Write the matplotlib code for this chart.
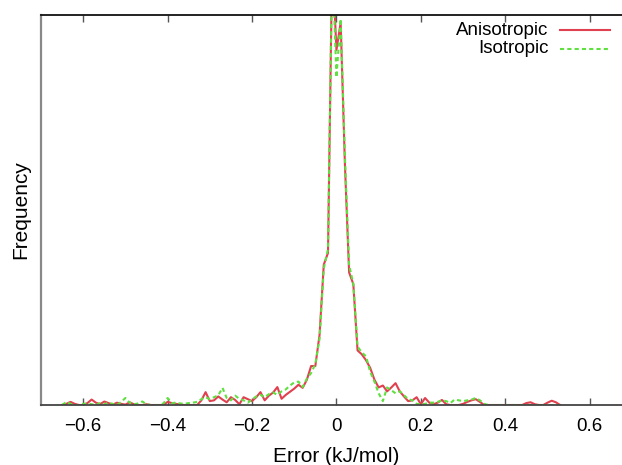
import numpy as np
import matplotlib
matplotlib.use("Agg")
import matplotlib.pyplot as plt

plt.rcParams['font.family'] = ['Liberation Sans', 'DejaVu Sans']

# Histogram bins (kJ/mol), 0.01 wide
error_bins = np.round(np.arange(-0.65, 0.5301, 0.01), 2)

# Frequency, arbitrary units (axis top = 100)
anisotropic = [
    0, 0.3, 0.8, 0.3, 0, 0, 0.5, 1.4, 0.6, 0.2,          # -0.65 .. -0.56
    0.9, 0.5, 0.1, 0.6, 0.3, 0.1, 0.7, 0.2, 0, 0,        # -0.55 .. -0.46
    0.2, 0, 0, 0, 0, 0.8, 0.5, 0.3, 0.1, 0,              # -0.45 .. -0.36
    0, 0, 0, 1.2, 3.3, 1.0, 1.2, 2.2, 1.4, 0.7,          # -0.35 .. -0.26
    2.0, 1.3, 0.2, 2.0, 1.5, 1.0, 2.0, 3.3, 1.2, 2.4,    # -0.25 .. -0.16
    3.2, 4.6, 1.6, 2.6, 3.4, 4.2, 5.2, 4.4, 6.5, 10.0,   # -0.15 .. -0.06
    10.0, 18, 36, 39, 115, 91, 98, 62, 34, 31,           # -0.05 .. 0.04
    14, 13, 11.5, 9.5, 6.5, 4.5, 5.0, 3.5, 4.5, 5.6,     # 0.05 .. 0.14
    3.5, 2.2, 1.0, 1.2, 2.0, 0.2, 1.8, 0.6, 0.2, 0.6,    # 0.15 .. 0.24
    1.3, 0.2, 0, 0, 0, 0.3, 0.8, 1.2, 1.5, 0.8,          # 0.25 .. 0.34
    0, 0, 0, 0, 0, 0, 0, 0, 0, 0,                        # 0.35 .. 0.44
    0.5, 0.7, 0.2, 0, 0, 0.6, 1.1, 0.7, 0,               # 0.45 .. 0.53
]
isotropic = [
    0, 0.8, 0.3, 0, 0, 0.3, 0.4, 0.2, 0, 0.5,            # -0.65 .. -0.56
    0.2, 0.6, 0.3, 0, 0.8, 1.8, 0.6, 0.2, 0.4, 0.9,      # -0.55 .. -0.46
    0.2, 0, 0, 0, 0.4, 1.8, 0.5, 0.6, 0.4, 0.3,          # -0.45 .. -0.36
    0.5, 0.6, 0.8, 1.5, 2.0, 1.5, 2.0, 2.5, 4.4, 1.8,    # -0.35 .. -0.26
    1.2, 2.4, 1.6, 1.2, 0.6, 1.4, 2.2, 2.6, 2.0, 2.8,    # -0.25 .. -0.16
    3.2, 2.6, 3.5, 4.0, 5.0, 5.8, 6.0, 4.6, 6.8, 8.2,    # -0.15 .. -0.06
    10.5, 17, 35, 40, 115, 84, 99, 64, 36, 31,           # -0.05 .. 0.04
    15, 13.5, 12.5, 8.5, 6.0, 3.0, 1.0, 4.5, 3.8, 3.0,   # 0.05 .. 0.14
    3.5, 2.5, 1.5, 1.2, 0.3, 0.2, 0.3, 0.6, 0.6, 0.8,    # 0.15 .. 0.24
    1.2, 1.0, 0.5, 1.4, 1.2, 1.0, 1.2, 1.4, 1.8, 1.2,    # 0.25 .. 0.34
    0.3, 0, 0, 0, 0, 0, 0, 0, 0, 0,                      # 0.35 .. 0.44
    0, 0, 0, 0, 0, 0, 0, 0, 0,                           # 0.45 .. 0.53
]

RED = '#e0404f'
GREEN = '#5fe040'
LW = 1.5

fig = plt.figure(figsize=(6.22, 4.65), dpi=100)
ax = fig.add_axes([0.0659, 0.129, 0.95, 0.8387])

ax.plot(error_bins, anisotropic, color=RED, linewidth=LW)
ax.plot(error_bins, isotropic, color=GREEN, linewidth=LW, linestyle=(0, (2, 1.5)))

ax.set_xlim(-0.7, 0.7)
ax.set_ylim(0, 100)
ax.set_xticks([-0.6, -0.4, -0.2, 0, 0.2, 0.4, 0.6])
ax.set_xticklabels(['\u22120.6', '\u22120.4', '\u22120.2', '0', '0.2', '0.4', '0.6'])
ax.set_yticks([])
ax.tick_params(axis='x', direction='in', top=True, length=5, width=1,
               color='#555555', labelsize=13.5, pad=9)

ax.spines['top'].set_color('#111111')
ax.spines['top'].set_linewidth(1.3)
ax.spines['left'].set_color('#888888')
ax.spines['left'].set_linewidth(1.6)
ax.spines['bottom'].set_color('#444444')
ax.spines['bottom'].set_linewidth(1.3)
ax.spines['right'].set_visible(False)

ax.set_xlabel('Error (kJ/mol)', fontsize=15, labelpad=9)
ax.set_ylabel('Frequency', fontsize=15, labelpad=8)

# gnuplot-style key: label right-aligned, sample line to the right
for i, (name, col, ls) in enumerate([('Anisotropic', RED, '-'),
                                     ('Isotropic', GREEN, (0, (2, 1.5)))]):
    yk = 0.961 - i * 0.047
    ax.text(0.859, yk, name, transform=ax.transAxes, ha='right', va='center', fontsize=13.5)
    ax.plot([0.878, 0.963], [yk, yk], transform=ax.transAxes, color=col,
            linewidth=LW, linestyle=ls, clip_on=False)

fig.savefig('out.png', dpi=100)
